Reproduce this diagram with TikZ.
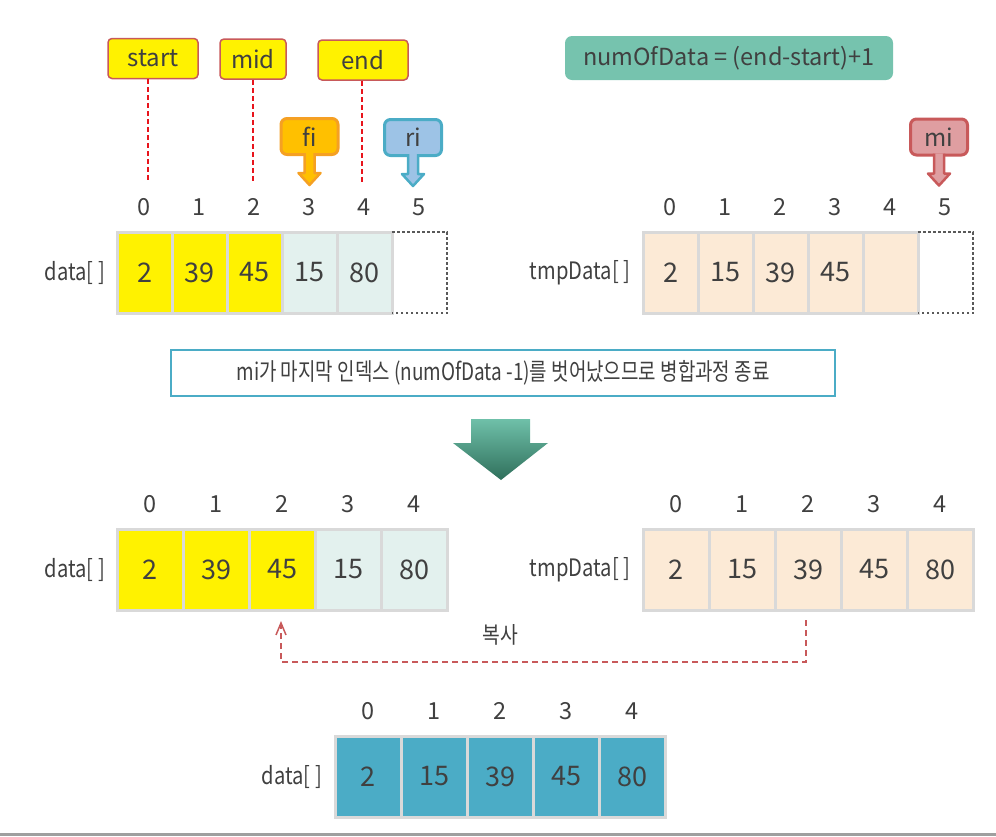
\documentclass[tikz,border=0pt]{standalone}
\usepackage{fontspec}
\setmainfont{Noto Sans CJK KR}
\newfontfamily\narrowfont{Noto Sans CJK KR}[FakeStretch=0.84]
\newfontfamily\msgfont{Noto Sans CJK KR}[FakeStretch=0.79]
\usepackage{tikz}
\usetikzlibrary{arrows.meta,positioning}

\definecolor{txtgray}{HTML}{404040}
\definecolor{cellgray}{HTML}{D9D9D9}
\definecolor{dotgray}{HTML}{595959}
\definecolor{paleteal}{HTML}{E3F1EE}
\definecolor{peach}{HTML}{FCEAD6}
\definecolor{cellblue}{HTML}{4BACC6}
\definecolor{tagred}{HTML}{C8595A}
\definecolor{lineRed}{HTML}{E8141C}
\definecolor{fiFill}{HTML}{FFC000}
\definecolor{fiDraw}{HTML}{F5A023}
\definecolor{riFill}{HTML}{9DC3E6}
\definecolor{riDraw}{HTML}{4BACC6}
\definecolor{miFill}{HTML}{DF9EA1}
\definecolor{miDraw}{HTML}{C8595A}
\definecolor{numFill}{HTML}{76C3AE}
\definecolor{arrTop}{HTML}{6FC0A9}
\definecolor{arrBot}{HTML}{2F6F5B}

\tikzset{%
  >={Straight Barb[width=10pt,length=12pt]},
      base/.style = {rectangle, draw=cellgray, line width=3pt,
                     minimum width=55pt, minimum height=81pt,
                     inner sep=0pt, outer sep=0pt, text=txtgray,
                     font=\fontsize{27}{30}\selectfont, node distance=55pt},
     cellY/.style = {base, fill=yellow},
     cellG/.style = {base, fill=paleteal},
     cellT/.style = {base, fill=peach},
     cellE/.style = {base, draw=none},
      wide/.style = {minimum width=66pt, node distance=66pt},
     cellB/.style = {base, wide, fill=cellblue},
       idx/.style = {text=txtgray, inner sep=0pt, node distance=65.5pt,
                     font=\fontsize{23.5}{25}\selectfont},
     arrname/.style = {text=txtgray, inner sep=0pt, font=\narrowfont\fontsize{24}{26}\selectfont},
       tag/.style = {rectangle, rounded corners=4pt, draw=tagred, line width=1.5pt,
                     fill=yellow, minimum height=40pt, inner sep=0pt, text=txtgray,
                     font=\fontsize{24}{26}\selectfont},
       ptr/.style = {rectangle, rounded corners=6pt, line width=3pt,
                     minimum width=57pt, minimum height=36pt, inner sep=0pt,
                     text=txtgray, font=\fontsize{24}{26}\selectfont},
   tagline/.style = {draw=lineRed, line width=2.5pt, dash pattern=on 5pt off 3pt},
  copyline/.style = {draw=tagred, line width=1.5pt, dash pattern=on 6pt off 4pt},
}

\begin{document}
\begin{tikzpicture}[x=1pt, y=1pt]
  \useasboundingbox (0,0) rectangle (996,-836);

  % top left : data[]
  \node (dLabel) [arrname] at (75,-272.5) {data[ ]};
  \node (d0) [cellY] at (144.5,-272.5) {2};
  \node (d1) [cellY, right of=d0] {39};
  \node (d2) [cellY, right of=d1] {45};
  \node (d3) [cellG, right of=d2] {15};
  \node (d4) [cellG, right of=d3] {80};
  \node (d5) [cellE, right of=d4] {};
  \draw[draw=dotgray, line width=2.5pt, dash pattern=on 2.5pt off 2.5pt]
       (d5.north west) -- (d5.north east) -- (d5.south east) -- (d5.south west);
  \node (d0i) [idx, above of=d0] {0};
  \node (d1i) [idx, above of=d1] {1};
  \node (d2i) [idx, above of=d2] {2};
  \node (d3i) [idx, above of=d3] {3};
  \node (d4i) [idx, above of=d4] {4};
  \node (d5i) [idx, above of=d5] {5};

  \node (start) [tag, minimum width=90pt] at (153,-58.5) {start};
  \node (mid)   [tag, minimum width=66pt] at (253,-59)   {mid};
  \node (end)   [tag, minimum width=90pt] at (363,-60)   {end};
  \coordinate (startEnd) at (148,-183);
  \coordinate (midEnd)   at (253,-183);
  \coordinate (endEnd)   at (362,-183);
  \draw[tagline] (startEnd |- start.south) -- (startEnd);
  \draw[tagline] (midEnd |- mid.south) -- (midEnd);
  \draw[tagline] (endEnd |- end.south) -- (endEnd);

  \node (fi) [ptr, draw=fiDraw, fill=fiFill] at (309.5,-136.5) {fi};
  \draw[draw=fiDraw, fill=fiFill, line width=2.5pt, line join=round]
       ([xshift=-5pt,yshift=3pt]fi.south) -- ++(0,-20) -- ++(-6,0) -- ++(11,-12)
       -- ++(11,12) -- ++(-6,0) -- ++(0,20);
  \node (ri) [ptr, draw=riDraw, fill=riFill] at (413,-137.5) {ri};
  \draw[draw=riDraw, fill=riFill, line width=2.5pt, line join=round]
       ([xshift=-5pt,yshift=3pt]ri.south) -- ++(0,-20) -- ++(-6,0) -- ++(11,-12)
       -- ++(11,12) -- ++(-6,0) -- ++(0,20);

  % top right : tmpData[]
  \node (num) [rectangle, rounded corners=7pt, fill=numFill, minimum width=328pt,
               minimum height=44pt, text=txtgray, font=\fontsize{23.5}{25}\selectfont]
               at (729,-58) {numOfData = (end-start)+1};
  \node (tLabel) [arrname] at (580,-272.5) {tmpData[ ]};
  \node (t0) [cellT] at (670.5,-272.5) {2};
  \node (t1) [cellT, right of=t0] {15};
  \node (t2) [cellT, right of=t1] {39};
  \node (t3) [cellT, right of=t2] {45};
  \node (t4) [cellT, right of=t3] {};
  \node (t5) [cellE, right of=t4] {};
  \draw[draw=dotgray, line width=2.5pt, dash pattern=on 2.5pt off 2.5pt]
       (t5.north west) -- (t5.north east) -- (t5.south east) -- (t5.south west);
  \node (t0i) [idx, above of=t0] {0};
  \node (t1i) [idx, above of=t1] {1};
  \node (t2i) [idx, above of=t2] {2};
  \node (t3i) [idx, above of=t3] {3};
  \node (t4i) [idx, above of=t4] {4};
  \node (t5i) [idx, above of=t5] {5};

  \node (mi) [ptr, draw=miDraw, fill=miFill] at (939,-137) {mi};
  \draw[draw=miDraw, fill=miFill, line width=2.5pt, line join=round]
       ([xshift=-5pt,yshift=3pt]mi.south) -- ++(0,-20) -- ++(-6,0) -- ++(11,-12)
       -- ++(11,12) -- ++(-6,0) -- ++(0,20);

  % message and big arrow
  \node (msg) [rectangle, draw=cellblue, line width=2pt, minimum width=664pt,
               minimum height=46pt, text=txtgray, font=\msgfont\fontsize{24}{26}\selectfont]
               at (503,-373) {mi가 마지막 인덱스 (numOfData -1)를 벗어났으므로 병합과정 종료};
  \shade[top color=arrTop, bottom color=arrBot]
       (471,-419) -- (530,-419) -- (530,-443) -- (548,-443) -- (501,-480)
       -- (453,-443) -- (471,-443) -- cycle;

  % second row
  \node (dcLabel) [arrname] at (75,-569.5) {data[ ]};
  \node (dc0) [cellY, wide] at (150,-569.5) {2};
  \node (dc1) [cellY, wide, right of=dc0] {39};
  \node (dc2) [cellY, wide, right of=dc1] {45};
  \node (dc3) [cellG, wide, right of=dc2] {15};
  \node (dc4) [cellG, wide, right of=dc3] {80};
  \node (dc0i) [idx, above of=dc0] {0};
  \node (dc1i) [idx, above of=dc1] {1};
  \node (dc2i) [idx, above of=dc2] {2};
  \node (dc3i) [idx, above of=dc3] {3};
  \node (dc4i) [idx, above of=dc4] {4};

  \node (tcLabel) [arrname] at (580,-569.5) {tmpData[ ]};
  \node (tc0) [cellT, wide] at (676,-569.5) {2};
  \node (tc1) [cellT, wide, right of=tc0] {15};
  \node (tc2) [cellT, wide, right of=tc1] {39};
  \node (tc3) [cellT, wide, right of=tc2] {45};
  \node (tc4) [cellT, wide, right of=tc3] {80};
  \node (tc0i) [idx, above of=tc0] {0};
  \node (tc1i) [idx, above of=tc1] {1};
  \node (tc2i) [idx, above of=tc2] {2};
  \node (tc3i) [idx, above of=tc3] {3};
  \node (tc4i) [idx, above of=tc4] {4};

  \draw[copyline, ->] ([xshift=-2pt,yshift=-10pt]tc2.south) -- ++(0,-42)
       -| ([xshift=-1pt,yshift=-11pt]dc2.south);
  \node (copy) [idx, font=\narrowfont\fontsize{23}{25}\selectfont] at (500,-635) {복사};

  % result
  \node (rLabel) [arrname] at (292,-776.5) {data[ ]};
  \node (r0) [cellB] at (368,-776.5) {2};
  \node (r1) [cellB, right of=r0] {15};
  \node (r2) [cellB, right of=r1] {39};
  \node (r3) [cellB, right of=r2] {45};
  \node (r4) [cellB, right of=r3] {80};
  \node (r0i) [idx, above of=r0] {0};
  \node (r1i) [idx, above of=r1] {1};
  \node (r2i) [idx, above of=r2] {2};
  \node (r3i) [idx, above of=r3] {3};
  \node (r4i) [idx, above of=r4] {4};

  \fill[gray!75] (0,-833) rectangle (996,-836);
\end{tikzpicture}
\end{document}
